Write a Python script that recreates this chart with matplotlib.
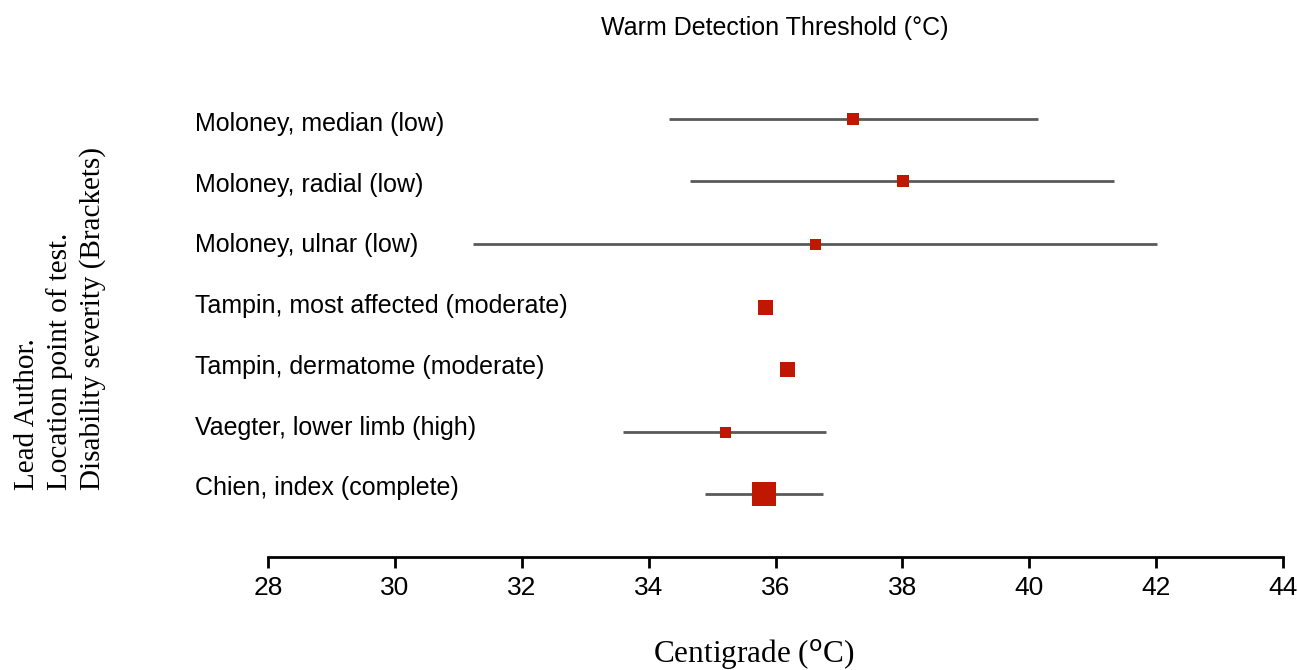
import matplotlib
matplotlib.use("Agg")
import matplotlib.pyplot as plt

labels = ["Moloney, median (low)", "Moloney, radial (low)", "Moloney, ulnar (low)",
          "Tampin, most affected (moderate)", "Tampin, dermatome (moderate)",
          "Vaegter, lower limb (high)", "Chien, index (complete)"]
means = [37.22, 38.01, 36.62, 35.83, 36.18, 35.20, 35.82]
lower = [34.32, 34.65, 31.23, None, None, 33.60, 34.89]
upper = [40.14, 41.34, 42.01, None, None, 36.80, 36.75]
msize = [12, 12, 11, 15, 15, 11, 24]
xticks = [28, 30, 32, 34, 36, 38, 40, 42, 44]

W, H = 1298, 670
fig = plt.figure(figsize=(W/100, H/100), dpi=100)
ax = fig.add_axes([268/W, (H-557)/H, (1283-268)/W, (557-56.3)/H])

red = "#C01800"
grey = "#5a5a5a"
for i, (m, lo, hi, s) in enumerate(zip(means, lower, upper, msize)):
    if lo is not None:
        ax.plot([lo, hi], [i, i], color=grey, lw=2, solid_capstyle="butt", zorder=1)
    ax.plot([m], [i], marker="s", ms=s*0.72, color=red, mec=red, mew=0, zorder=2)

ax.set_xlim(28, 44)
ax.set_ylim(7, -1)
ax.set_yticks([])
for sp in ["top", "right", "left"]:
    ax.spines[sp].set_visible(False)
ax.spines["bottom"].set_linewidth(2)
ax.set_xticks(xticks)
ax.set_xticklabels([str(t) for t in xticks], fontsize=19, family="Liberation Sans")
ax.tick_params(axis="x", length=8, width=2, pad=6)

for i, lab in enumerate(labels):
    fig.text(195/W, 1 - (124 + 60.7*i)/H, lab, ha="left", va="center",
             fontsize=18, family="Liberation Sans")

fig.text(775/W, 1 - 28/H, "Warm Detection Threshold (°C)", ha="center", va="center",
         fontsize=18, family="Liberation Sans")
fig.text(754/W, 1 - 655/H, "Centigrade ($^{\\mathrm{o}}$C)", ha="center", va="center",
         fontsize=22.5, family="Liberation Serif")
fig.text(60/W, 1 - 318/H, "Lead Author.\nLocation point of test.\nDisability severity (Brackets)",
         ha="center", va="center", rotation=90, fontsize=21, family="Liberation Serif",
         multialignment="left", linespacing=1.3)

fig.savefig("out.png", dpi=100)
